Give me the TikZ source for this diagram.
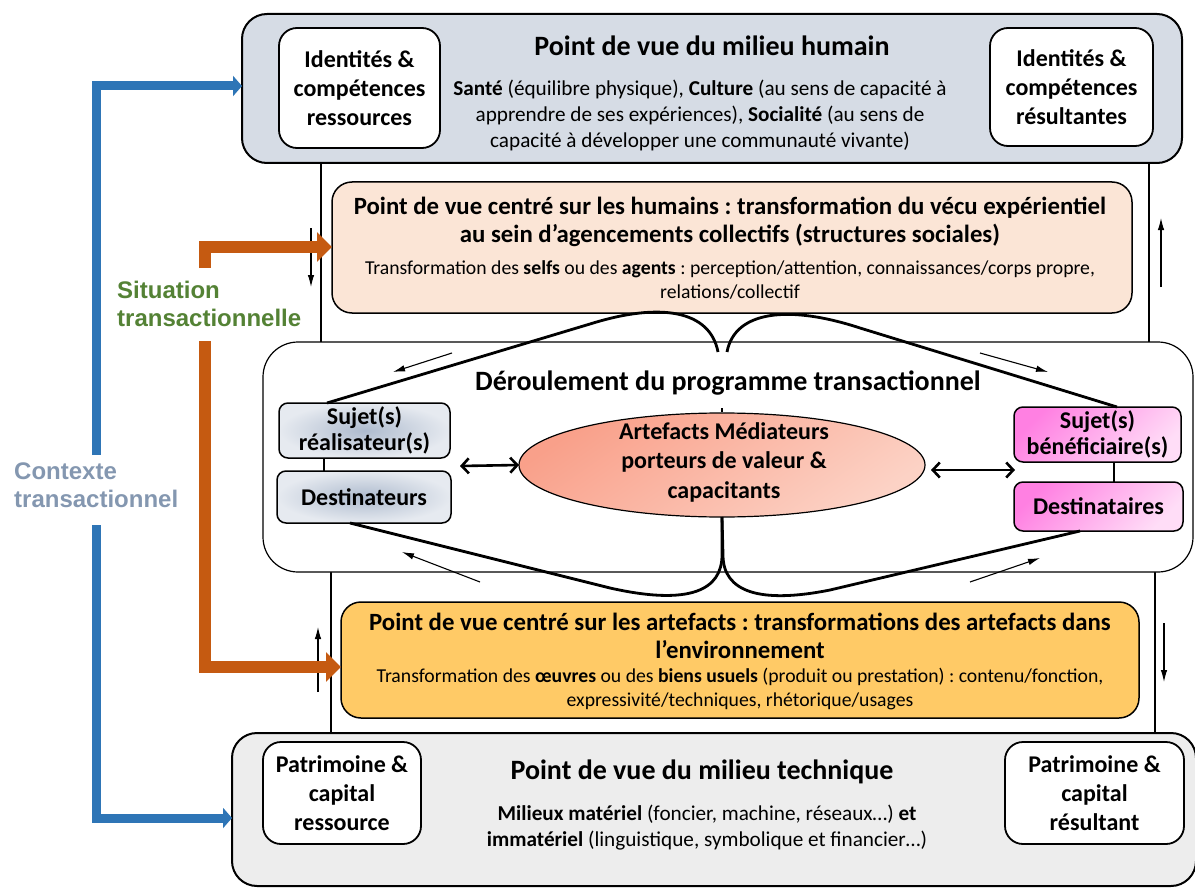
\documentclass[tikz,border=0pt]{standalone}
\usepackage{fontspec}
\setmainfont{Carlito}
\newfontfamily\arialfont{Liberation Sans}
\usetikzlibrary{arrows.meta,shapes.geometric,calc}
\definecolor{topfill}{HTML}{D6DCE5}
\definecolor{peachfill}{HTML}{FBE5D6}
\definecolor{goldfill}{HTML}{FFCA66}
\definecolor{botfill}{HTML}{EDEDED}
\definecolor{orangeA}{HTML}{C55A11}
\definecolor{blueA}{HTML}{2E75B6}
\definecolor{greenA}{HTML}{548235}
\definecolor{grayblue}{HTML}{8497B0}
\definecolor{ellA}{HTML}{F9A08A}
\definecolor{ellB}{HTML}{FCD2C5}
\definecolor{pinkA}{HTML}{FF80E2}
\definecolor{pinkB}{HTML}{FFDDF7}
\definecolor{sgA}{HTML}{AEBBCE}
\definecolor{sgB}{HTML}{E6EAF0}
\frenchspacing
\begin{document}
\begin{tikzpicture}[x=1pt,y=-1pt,
 bigbox/.style={draw, line width=2pt, rounded corners=25pt, inner sep=0pt, outer sep=0pt},
 wbox/.style={draw, fill=white, line width=1.8pt, rounded corners=18pt, inner sep=0pt, outer sep=0pt, align=center, font=\fontsize{24}{29}\selectfont\bfseries},
 sbox/.style={draw, line width=1.5pt, rounded corners=9pt, inner sep=0pt, outer sep=0pt, align=center, font=\fontsize{24}{26.5}\selectfont\bfseries},
 ttl/.style={font=\fontsize{28}{33}\selectfont\bfseries, inner sep=0pt},
 sttl/.style={align=center, font=\fontsize{24.8}{28.5}\selectfont\bfseries, inner sep=0pt},
 bodytxt/.style={align=center, font=\fontsize{21.2}{26}\selectfont, inner sep=0pt},
 smalltxt/.style={align=center, font=\fontsize{19.7}{24}\selectfont, inner sep=0pt},
 conn/.style={line width=2.2pt},
 loopline/.style={line width=2.8pt},
 thinarrow/.style={line width=1.1pt, -{Latex[length=12pt,width=6.5pt]}},
 dblarrow/.style={line width=2.6pt, {Straight Barb[length=7pt,width=15pt]}-{Straight Barb[length=7pt,width=15pt]}},
 oarrow/.style={draw=orangeA, line width=12pt, line join=miter, -{Triangle[length=15pt,width=29pt]}},
 barrow/.style={draw=blueA, line width=9pt, line join=miter, -{Triangle[length=9pt,width=20pt]}},
 sidelbl/.style={anchor=north west, align=left, font=\arialfont\fontsize{24}{28}\selectfont\bfseries, inner sep=0pt},
]
\useasboundingbox (0,0) rectangle (1195,888);

% ---------- big boxes ----------
\node[bigbox, fill=topfill, minimum width=940pt, minimum height=149pt] (top) at (712,88.5) {};
\node[bigbox, fill=botfill, minimum width=964pt, minimum height=153pt] (bot) at (714,809.5) {};

% vertical frame lines
\draw[conn] (321,0 |- top.south) -- (321,0 |- 0,342);
\draw[conn] (1149,0 |- top.south) -- (1149,0 |- 0,342);
\draw[conn] (331,0 |- 0,572) -- (331,0 |- bot.north);
\draw[conn] (1155,0 |- 0,572) -- (1155,0 |- bot.north);

\node[draw, fill=peachfill, line width=1.5pt, rounded corners=20pt, inner sep=0pt, outer sep=0pt, minimum width=800pt, minimum height=131pt] (peach) at (732,247.5) {};
\node[draw, fill=goldfill, line width=1.5pt, rounded corners=20pt, inner sep=0pt, outer sep=0pt, minimum width=798pt, minimum height=116pt] (gold) at (740,660) {};
\node[draw, fill=white, line width=1.2pt, rounded corners=35pt, inner sep=0pt, outer sep=0pt, minimum width=930pt, minimum height=230pt] (mid) at (728,457) {};

% ---------- top box content ----------
\node[wbox, minimum width=161pt, minimum height=120pt] (idres) at (359.5,88) {Identités \&\\compétences\\ressources};
\node[wbox, minimum width=163pt, minimum height=118pt] (idresult) at (1071.5,87) {Identités \&\\compétences\\résultantes};
\node[ttl] (toptitle) at (712,46) {Point de vue du milieu humain};
\node[bodytxt] (topbody) at (700,115) {\textbf{Santé} (équilibre physique), \textbf{Culture} (au sens de capacité à\\apprendre de ses expériences), \textbf{Socialité} (au sens de\\capacité à développer une communauté vivante)};

% ---------- peach box content ----------
\node[sttl] (peachtitle) at (730,222) {Point de vue centré sur les humains : transformation du vécu expérientiel\\au sein d’agencements collectifs (structures sociales)};
\node[smalltxt] (peachbody) at (730,280) {Transformation des \textbf{selfs} ou des \textbf{agents} : perception/attention, connaissances/corps propre,\\relations/collectif};

% ---------- middle box content ----------
\node[ttl] (midtitle) at (728,383) {Déroulement du programme transactionnel};
\draw[line width=1.2pt] (722,408) -- (722,412);
\node[ellipse, draw, line width=1.2pt, inner sep=0pt, outer sep=0pt, minimum width=406pt, minimum height=104pt, top color=ellA, bottom color=ellB, shading angle=35] (ell) at (722,465) {};
\node[sttl, align=center, font=\fontsize{24}{29.5}\selectfont\bfseries] (elltxt) at (724,462) {Artefacts Médiateurs\\porteurs de valeur \&\\capacitants};

\node[sbox, inner color=sgA, outer color=sgB, minimum width=171pt, minimum height=55pt] (sr) at (364.5,430.5) {Sujet(s)\\réalisateur(s)};
\node[sbox, inner color=sgA, outer color=sgB, minimum width=174pt, minimum height=52pt] (dr) at (364,497) {Destinateurs};
\node[sbox, top color=pinkA, bottom color=pinkB, shading angle=45, minimum width=167pt, minimum height=55pt] (sb) at (1097.5,434.5) {Sujet(s)\\bénéficiaire(s)};
\node[sbox, top color=pinkA, bottom color=pinkB, shading angle=45, minimum width=169pt, minimum height=49pt] (dt) at (1098.5,506.5) {Destinataires};

\draw[line width=2pt] (324,0 |- sr.south) -- (324,0 |- dr.north);
\draw[line width=2pt] (1114,0 |- sb.south) -- (1114,0 |- dt.north);

\draw[dblarrow] (460,466) -- (ell.west);
\draw[dblarrow] (931,470) -- (1015,470);

% loops
\draw[loopline] ([xshift=48pt]sr.north west) -- (590,324) .. controls (660,302) and (710,310) .. (718,352);
\draw[loopline] (727,352) .. controls (735,310) and (790,305) .. (860,328) -- ([xshift=103pt]sb.north west);
\draw[loopline] ([xshift=73pt]dr.south west) -- (610,588) .. controls (690,606) and (722,590) .. (722,555) -- (ell.south);
\draw[loopline] (ell.south) -- (723,555) .. controls (723,592) and (760,604) .. (830,590) -- ([xshift=66pt]dt.south west);

% thin arrows
\coordinate (a1s) at (452,353); \coordinate (a1e) at (393,372);
\coordinate (a2s) at (980,353); \coordinate (a2e) at (1048,372);
\coordinate (a3s) at (480,582); \coordinate (a3e) at (402,552);
\coordinate (a4s) at (970,582); \coordinate (a4e) at (1040,558);
\coordinate (v1s) at (311,228); \coordinate (v1e) at (311,287);
\coordinate (v2s) at (1161,287); \coordinate (v2e) at (1161,218);
\coordinate (v3s) at (318,692); \coordinate (v3e) at (318,627);
\coordinate (v4s) at (1164,623); \coordinate (v4e) at (1164,682);
\draw[thinarrow] (a1s) -- (a1e);
\draw[thinarrow] (a2s) -- (a2e);
\draw[thinarrow] (a3s) -- (a3e);
\draw[thinarrow] (a4s) -- (a4e);
\draw[thinarrow] (v1s) -- (v1e);
\draw[thinarrow] (v2s) -- (v2e);
\draw[thinarrow] (v3s) -- (v3e);
\draw[thinarrow] (v4s) -- (v4e);

% ---------- gold box content ----------
\node[sttl] (goldtitle) at (740,636) {Point de vue centré sur les artefacts : transformations des artefacts dans\\l’environnement};
\node[smalltxt] (goldbody) at (740,689) {Transformation des \textbf{œuvres} ou des \textbf{biens usuels} (produit ou prestation) : contenu/fonction,\\expressivité/techniques, rhétorique/usages};

% ---------- bottom box content ----------
\node[wbox, minimum width=158pt, minimum height=102pt] (patres) at (342,793) {Patrimoine \&\\capital\\ressource};
\node[wbox, minimum width=179pt, minimum height=102pt] (patresult) at (1094.5,793) {Patrimoine \&\\capital\\résultant};
\node[ttl] (bottitle) at (702,772) {Point de vue du milieu technique};
\node[bodytxt] (botbody) at (707,828) {\textbf{Milieux matériel} (foncier, machine, réseaux…) \textbf{et}\\\textbf{immatériel} (linguistique, symbolique et financier…)};

% ---------- side arrows ----------
\draw[oarrow] (205,268) -- (205,247) -- (peach.west |- 0,247);
\draw[oarrow] (205,341) -- (205,667) -- (gold.west |- 0,667);
\draw[barrow] (96,455) -- (96,86) -- (top.west |- 0,86);
\draw[barrow] (96,525) -- (96,818) -- (bot.west |- 0,818);

\node[sidelbl, text=greenA] (sit) at (117,281) {Situation\\transactionnelle};
\node[sidelbl, text=grayblue] (ctx) at (14,463) {Contexte\\transactionnel};
\end{tikzpicture}
\end{document}
